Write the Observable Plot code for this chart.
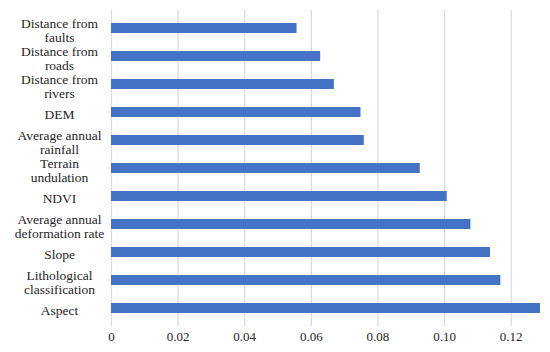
<!DOCTYPE html>
<html>
<head>
<meta charset="utf-8">
<script src="https://cdn.jsdelivr.net/npm/d3@7"></script>
<script src="https://cdn.jsdelivr.net/npm/@observablehq/plot@0.6"></script>
<style>
  html, body { margin: 0; padding: 0; background: #fff; }
  svg { display: block; }
</style>
</head>
<body>
<div id="chart"></div>
<script>
const categories = [
  "Distance from faults",
  "Distance from roads",
  "Distance from rivers",
  "DEM",
  "Average annual rainfall",
  "Terrain undulation",
  "NDVI",
  "Average annual deformation rate",
  "Slope",
  "Lithological classification",
  "Aspect"
];
const labels = [
  "Distance from\nfaults",
  "Distance from\nroads",
  "Distance from\nrivers",
  "DEM",
  "Average annual\nrainfall",
  "Terrain\nundulation",
  "NDVI",
  "Average annual\ndeformation rate",
  "Slope",
  "Lithological\nclassification",
  "Aspect"
];
const values = [0.0557, 0.0628, 0.0669, 0.0749, 0.0759, 0.0927, 0.1008, 0.1079, 0.1138, 0.1169, 0.1288];
const xTicks = [0, 0.02, 0.04, 0.06, 0.08, 0.10, 0.12];

const data = categories.map((c, i) => ({category: c, label: labels[i], value: values[i]}));
const FONT = "'Liberation Serif', 'Times New Roman', serif";

const chart = Plot.plot({
  width: 550,
  height: 352,
  marginLeft: 111,
  marginRight: 6,
  marginTop: 10,
  marginBottom: 26,
  style: {fontFamily: FONT, fontSize: "13px", color: "#262626", background: "#fff"},
  x: {domain: [0, 0.13], label: null},
  y: {domain: categories, paddingInner: 0.65, paddingOuter: 0.325, axis: null},
  marks: [
    Plot.ruleX(xTicks, {stroke: "#d9d9d9", strokeWidth: 1.2}),
    Plot.barX(data, {x: "value", y: "category", fill: "#4472C4"}),
    Plot.axisX({
      ticks: xTicks,
      tickFormat: d => d === 0 ? "0" : d3.format(".2f")(d),
      tickSize: 0,
      tickPadding: 5,
      fontFamily: FONT,
      fontSize: 13,
      fill: "#262626",
      label: null
    }),
    Plot.text(data, {
      y: "category",
      text: "label",
      frameAnchor: "left",
      dx: -52,
      dy: 2,
      textAnchor: "middle",
      lineHeight: 1.04,
      fontSize: 13.5,
      fontFamily: FONT,
      fill: "#262626"
    })
  ]
});
document.getElementById("chart").appendChild(chart);
</script>
</body>
</html>
